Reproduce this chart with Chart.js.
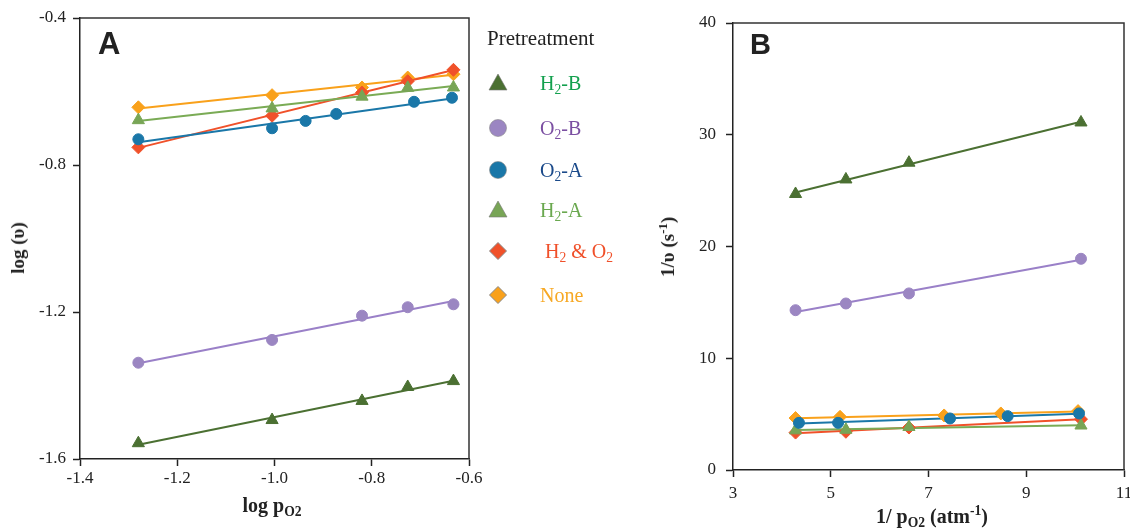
<!DOCTYPE html>
<html>
<head>
<meta charset="utf-8">
<script src="https://cdn.jsdelivr.net/npm/chart.js@4/dist/chart.umd.min.js"></script>
<style>
  html, body { margin: 0; padding: 0; background: #fff; }
  #wrap { position: relative; width: 1130px; height: 528px; overflow: hidden; font-family: "Liberation Serif", serif; }
  .cv { position: absolute; top: 0; }
  .lbl { position: absolute; white-space: nowrap; color: #222; }
  .bold { font-weight: bold; font-size: 19px; }
  .panel { font-family: "Liberation Sans", Arial, sans-serif; font-weight: bold; color: #222; }
  sub { font-size: 0.68em; vertical-align: -0.3em; line-height: 0; }
  sup { font-size: 0.68em; vertical-align: 0.55em; line-height: 0; }
  .leg { position: absolute; font-size: 20px; white-space: nowrap; }
  .mk { position: absolute; }
</style>
</head>
<body>
<div id="wrap">
  <canvas id="chartA" class="cv" width="490" height="528" style="left:0"></canvas>
  <canvas id="chartB" class="cv" width="500" height="528" style="left:640px"></canvas>

  <div class="lbl panel" style="left:98px;top:26px;font-size:31px">A</div>
  <div class="lbl panel" style="left:750px;top:28px;font-size:29px">B</div>

  <div class="lbl bold" style="left:272px;top:505px;transform:translate(-50%,-50%);font-size:20px">log p<sub>O2</sub></div>
  <div class="lbl bold" style="left:18px;top:248px;transform:translate(-50%,-50%) rotate(-90deg)">log (υ)</div>
  <div class="lbl bold" style="left:932px;top:516px;transform:translate(-50%,-50%);font-size:20px">1/ p<sub>O2</sub> (atm<sup>-1</sup>)</div>
  <div class="lbl bold" style="left:668px;top:247px;transform:translate(-50%,-50%) rotate(-90deg)">1/υ (s<sup>-1</sup>)</div>

  <div id="legend"></div>
</div>

<script>
// Panel A: log(v) against log pO2
const aX = [-1.28, -1.005, -0.82, -0.726, -0.632];
const aXO2A = [-1.28, -1.005, -0.936, -0.873, -0.713, -0.635];
const aH2B = [-1.557, -1.494, -1.442, -1.404, -1.388];
const aO2B = [-1.338, -1.276, -1.210, -1.187, -1.179];
const aO2A = [-0.730, -0.700, -0.680, -0.661, -0.628, -0.617];
const aH2A = [-0.678, -0.646, -0.614, -0.590, -0.589];
const aH2O2 = [-0.752, -0.666, -0.603, -0.572, -0.541];
const aNone = [-0.643, -0.610, -0.589, -0.562, -0.553];

// Panel B: 1/v against 1/pO2
const bX = [4.28, 5.31, 6.6, 10.12];
const bXO2A = [4.35, 5.15, 7.44, 8.62, 10.08];
const bXNone = [4.28, 5.19, 7.32, 8.48, 10.06];
const bH2B = [24.7, 26.0, 27.5, 31.1];
const bO2B = [14.3, 14.9, 15.8, 18.9];
const bO2A = [4.22, 4.22, 4.61, 4.82, 5.06];
const bH2A = [3.55, 3.6, 3.85, 3.98];
const bH2O2 = [3.35, 3.42, 3.8, 4.55];
const bNone = [4.65, 4.76, 4.88, 5.06, 5.27];

const aTicksX = [-1.4, -1.2, -1.0, -0.8, -0.6];
const aTicksY = [-1.6, -1.2, -0.8, -0.4];
const bTicksX = [3, 5, 7, 9, 11];
const bTicksY = [0, 10, 20, 30, 40];

// series look
const series = [
    { name: "H2-B",    html: "H<sub>2</sub>-B",  text: "#13a04e", color: "#4b7032", line: "#4b7032", style: "triangle", r: 7 },
    { name: "O2-B",    html: "O<sub>2</sub>-B",  text: "#7b4fa2", color: "#9b86c2", line: "#9a80c8", style: "circle", r: 5.5 },
    { name: "O2-A",    html: "O<sub>2</sub>-A",  text: "#1b4a8a", color: "#1a77a8", line: "#1a77a8", style: "circle", r: 5.5 },
    { name: "H2-A",    html: "H<sub>2</sub>-A",  text: "#6aa84f", color: "#78a556", line: "#7aab55", style: "triangle", r: 7 },
    { name: "H2 & O2", html: "&nbsp;H<sub>2</sub> &amp; O<sub>2</sub>", text: "#f0502a", color: "#f0512a", line: "#f0512a", style: "rectRot", r: 6.5 },
    { name: "None",    html: "None", text: "#f7a823", color: "#f9a11b", line: "#f9a11b", style: "rectRot", r: 6.5 }
];

function fitLine(xs, ys) {
    const n = xs.length;
    const mx = xs.reduce((s, v) => s + v, 0) / n;
    const my = ys.reduce((s, v) => s + v, 0) / n;
    let sxy = 0, sxx = 0;
    xs.forEach((x, i) => { sxy += (x - mx) * (ys[i] - my); sxx += (x - mx) * (x - mx); });
    const k = sxy / sxx, b = my - k * mx;
    const x0 = Math.min(...xs), x1 = Math.max(...xs);
    return [{ x: x0, y: k * x0 + b }, { x: x1, y: k * x1 + b }];
}

function buildDatasets(pairs) {
    const sets = [];
    pairs.forEach(([xs, ys], i) => {
        const s = series[i];
        sets.push({
            label: s.name,
            data: xs.map((x, j) => ({ x: x, y: ys[j] })),
            showLine: false,
            pointStyle: s.style,
            pointRadius: s.r,
            backgroundColor: s.color,
            borderColor: s.color,
            borderWidth: 1,
            order: 0
        });
        sets.push({
            label: s.name + " fit",
            data: fitLine(xs, ys),
            showLine: true,
            pointRadius: 0,
            borderColor: s.line,
            borderWidth: 2,
            order: 1
        });
    });
    return sets;
}

const frame = {
    id: "frame",
    afterDraw(chart) {
        const a = chart.chartArea, ctx = chart.ctx;
        ctx.save();
        ctx.strokeStyle = "#333";
        ctx.lineWidth = 1.5;
        ctx.beginPath();
        ctx.moveTo(a.left, a.top);
        ctx.lineTo(a.right, a.top);
        ctx.lineTo(a.right, a.bottom);
        ctx.stroke();
        ctx.restore();
    }
};

function axis(min, max, ticks, digits, size, pad, fitSize) {
    return {
        type: "linear",
        min: min,
        max: max,
        afterBuildTicks: s => { s.ticks = ticks.map(v => ({ value: v })); },
        afterFit: s => { if (s.isHorizontal()) s.height = fitSize; else s.width = fitSize; },
        ticks: {
            color: "#222",
            font: { family: "Liberation Serif", size: size },
            padding: pad,
            maxRotation: 0,
            autoSkip: false,
            callback: v => Number(v).toFixed(digits)
        },
        grid: { drawOnChartArea: false, drawTicks: true, tickLength: 7, tickColor: "#222", tickWidth: 1.5 },
        border: { display: true, color: "#222", width: 1.5 }
    };
}

function baseOptions(x, y, padding) {
    return {
        responsive: false,
        animation: false,
        layout: { padding: padding },
        plugins: { legend: { display: false }, tooltip: { enabled: false } },
        scales: { x: x, y: y }
    };
}

new Chart(document.getElementById("chartA"), {
    type: "scatter",
    data: {
        datasets: buildDatasets([
            [aX, aH2B], [aX, aO2B], [aXO2A, aO2A], [aX, aH2A], [aX, aH2O2], [aX, aNone]
        ])
    },
    options: baseOptions(
        axis(-1.4, -0.6, aTicksX, 1, 17, 2, 69),
        axis(-1.6, -0.4, aTicksY, 1, 17, 7, 80),
        { left: 0, top: 18, right: 21, bottom: 0 }
    ),
    plugins: [frame]
});

new Chart(document.getElementById("chartB"), {
    type: "scatter",
    data: {
        datasets: buildDatasets([
            [bX, bH2B], [bX, bO2B], [bXO2A, bO2A], [bX, bH2A], [bX, bH2O2], [bXNone, bNone]
        ])
    },
    options: baseOptions(
        axis(3, 11, bTicksX, 0, 17, 6, 58),
        axis(0, 40, bTicksY, 0, 17, 10, 93),
        { left: 0, top: 23, right: 16, bottom: 0 }
    ),
    plugins: [frame]
});

// legend (html so the subscripts stay real text)
function marker(s) {
    const c = s.color;
    if (s.style === "triangle") return `<svg width="20" height="18"><polygon points="10,1 19,17 1,17" fill="${c}" stroke="#777" stroke-width="0.6"/></svg>`;
    if (s.style === "circle") return `<svg width="20" height="20"><circle cx="10" cy="10" r="8.5" fill="${c}" stroke="#888" stroke-width="0.6"/></svg>`;
    return `<svg width="20" height="20"><polygon points="10,1.5 18.5,10 10,18.5 1.5,10" fill="${c}" stroke="#888" stroke-width="1"/></svg>`;
}

const legendY = [83, 128, 170, 210, 251, 295];
let html = `<div class="leg" style="left:487px;top:38px;transform:translateY(-50%);color:#222;font-size:21px">Pretreatment</div>`;
series.forEach((s, i) => {
    html += `<div class="mk" style="left:488px;top:${legendY[i] - 10}px">${marker(s)}</div>`;
    html += `<div class="leg" style="left:540px;top:${legendY[i]}px;transform:translateY(-50%);color:${s.text}">${s.html}</div>`;
});
document.getElementById("legend").innerHTML = html;
</script>
</body>
</html>
